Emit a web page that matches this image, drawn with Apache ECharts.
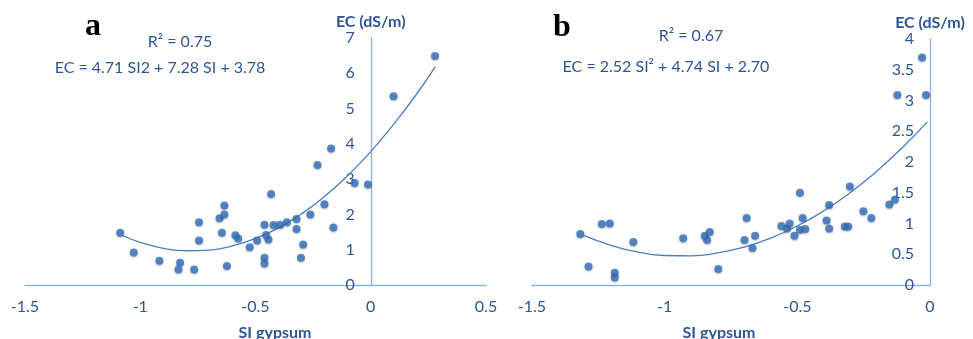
<!DOCTYPE html>
<html>
<head>
<meta charset="utf-8">
<script src="https://cdn.jsdelivr.net/npm/echarts@6/dist/echarts.min.js"></script>
<style>
html,body{margin:0;padding:0;background:#fff;}
#c{width:973px;height:339px;}
</style>
</head>
<body>
<div id="c"></div>
<script>
// Panel a: SI gypsum vs EC
const aSI = [-1.087,-1.028,-0.917,-0.827,-0.834,-0.766,-0.745,-0.745,-0.656,-0.635,-0.635,-0.646,-0.624,-0.587,-0.575,-0.525,-0.493,-0.461,-0.454,-0.444,-0.461,-0.461,-0.432,-0.422,-0.393,-0.364,-0.322,-0.322,-0.293,-0.303,-0.262,-0.201,-0.162,-0.070,-0.012,-0.231,-0.172,0.099,0.279];
const aEC = [1.48,0.92,0.69,0.63,0.44,0.44,1.78,1.26,1.89,2.25,2.00,1.48,0.54,1.41,1.32,1.07,1.26,1.71,1.42,1.29,0.77,0.61,2.58,1.70,1.71,1.78,1.87,1.59,1.15,0.77,2.00,2.29,1.63,2.89,2.85,3.40,3.87,5.35,6.49];
const aTrendSI = [-1.08,-1.0,-0.9,-0.8,-0.7,-0.6,-0.5,-0.4,-0.3,-0.2,-0.1,0,0.1,0.2,0.28];
const aTrendEC = [1.41,1.21,1.04,0.97,0.99,1.11,1.32,1.62,2.02,2.51,3.10,3.78,4.56,5.42,6.19];
// Panel b
const bSI = [-1.318,-1.287,-1.237,-1.207,-1.188,-1.188,-1.118,-0.930,-0.849,-0.840,-0.830,-0.798,-0.699,-0.691,-0.669,-0.659,-0.560,-0.539,-0.529,-0.511,-0.490,-0.490,-0.480,-0.470,-0.390,-0.380,-0.380,-0.321,-0.308,-0.302,-0.251,-0.221,-0.153,-0.132,-0.030,-0.123,-0.015];
const bEC = [0.83,0.30,0.99,1.00,0.20,0.12,0.70,0.76,0.80,0.73,0.86,0.26,0.73,1.09,0.60,0.80,0.96,0.92,1.00,0.80,1.50,0.90,1.09,0.91,1.05,1.30,0.92,0.95,0.95,1.60,1.20,1.09,1.31,1.39,3.70,3.09,3.09];
const bTrendSI = [-1.31,-1.2,-1.1,-1.0,-0.9,-0.8,-0.7,-0.6,-0.5,-0.4,-0.3,-0.2,-0.1,-0.01];
const bTrendEC = [0.815,0.641,0.535,0.48,0.475,0.521,0.617,0.763,0.96,1.207,1.505,1.853,2.251,2.653];

const xTicksA = {min:-1.5, max:0.5, interval:0.5};
const yTicksA = {min:0, max:7, interval:1};
const xTicksB = {min:-1.5, max:0, interval:0.5};
const yTicksB = {min:0, max:4, interval:0.5};

const texts = {
  yName: 'EC (dS/m)', xName: 'SI gypsum',
  aLabel: 'a', bLabel: 'b',
  aR2: 'R² = 0.75', aEq: 'EC = 4.71 SI2 + 7.28 SI + 3.78',
  bR2: 'R² = 0.67', bEq: 'EC = 2.52 SI² + 4.74 SI + 2.70'
};

const FONT = 'Lato, "Open Sans", sans-serif';
const TXT = '#2F5597';
const AXIS = '#8FB3E0';
const DOT = '#3470BD';

const grids = [
  {left:25, width:461, top:38, height:247, containLabel:false, outerBoundsMode:'none'},
  {left:532, width:398, top:39, height:246, containLabel:false, outerBoundsMode:'none'}
];

function zip(xs, ys){ return xs.map((x,i)=>[x, ys[i]]); }

function xAxisCfg(idx, t){
  return {
    type:'value', gridIndex:idx, min:t.min, max:t.max, interval:t.interval,
    axisLine:{show:true, onZero:false, lineStyle:{color:AXIS, width:1.3}},
    axisTick:{show:false}, splitLine:{show:false},
    axisLabel:{color:TXT, fontFamily:FONT, fontSize:16, margin:14,
      showMinLabel:true, showMaxLabel:true}
  };
}
// y axis placed where x = 0 on the x axis
function yAxisCfg(idx, t, xt){
  const g = grids[idx];
  const zeroFrac = (0 - xt.min) / (xt.max - xt.min);
  const atRight = zeroFrac >= 0.999;
  return {
    type:'value', gridIndex:idx, min:t.min, max:t.max, interval:t.interval,
    position: atRight ? 'right' : 'left',
    offset: atRight ? 0 : -zeroFrac * g.width,
    name:texts.yName, nameLocation:'end', nameGap:6,
    nameTextStyle:{color:TXT, fontFamily:FONT, fontSize:16, fontWeight:'bold', align:'center'},
    axisLine:{show:true, onZero:false, lineStyle:{color:AXIS, width:1.3}},
    axisTick:{show:false}, splitLine:{show:false},
    axisLabel:{color:TXT, fontFamily:FONT, fontSize:16, margin:16, inside: atRight}
  };
}
function scatter(idx, xs, ys){
  return {type:'scatter', xAxisIndex:idx, yAxisIndex:idx, data:zip(xs,ys),
    symbolSize:8, itemStyle:{color:DOT, shadowBlur:2, shadowColor:'rgba(0,0,0,0.35)', shadowOffsetY:1},
    z:3};
}
function trend(idx, xs, ys){
  return {type:'line', xAxisIndex:idx, yAxisIndex:idx, data:zip(xs,ys),
    smooth:true, showSymbol:false, lineStyle:{color:'#4A7EC6', width:1.3}, z:2};
}
function txt(x, y, s, opts){
  return Object.assign({type:'text', x:x, y:y,
    style:Object.assign({text:s, fill:TXT, font:'16px '+FONT, align:'center', verticalAlign:'middle'}, opts||{})});
}

const chart = echarts.init(document.getElementById('c'), null, {renderer:'canvas'});
chart.setOption({
  animation:false,
  grid:grids,
  xAxis:[xAxisCfg(0, xTicksA), xAxisCfg(1, xTicksB)],
  yAxis:[yAxisCfg(0, yTicksA, xTicksA), yAxisCfg(1, yTicksB, xTicksB)],
  series:[
    trend(0, aTrendSI, aTrendEC), scatter(0, aSI, aEC),
    trend(1, bTrendSI, bTrendEC), scatter(1, bSI, bEC)
  ],
  graphic:[
    txt(93, 27, texts.aLabel, {fill:'#000', font:'bold 32px "Liberation Serif", "DejaVu Serif", serif'}),
    txt(562, 28, texts.bLabel, {fill:'#000', font:'bold 32px "Liberation Serif", "DejaVu Serif", serif'}),
    txt(180, 42, texts.aR2),
    txt(160, 68, texts.aEq),
    txt(691, 36, texts.bR2),
    txt(666, 67, texts.bEq),
    txt(275, 333, texts.xName, {font:'bold 16px '+FONT}),
    txt(719, 333, texts.xName, {font:'bold 16px '+FONT})
  ]
});
</script>
</body>
</html>
